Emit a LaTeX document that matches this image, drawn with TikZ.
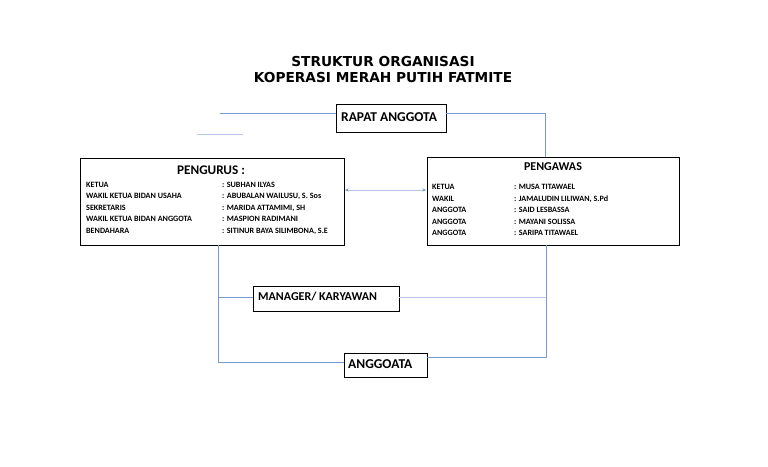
\documentclass[tikz,border=0pt]{standalone}
\usepackage{fontspec}
\setmainfont{Carlito}
\newfontfamily\titlefont{DejaVu Sans}
\usetikzlibrary{arrows.meta}
\definecolor{lnblue}{RGB}{120,152,210}
\definecolor{lnfaint}{RGB}{180,198,230}
\tikzset{
  box/.style={draw=black, line width=0.8pt, rectangle, inner sep=0pt},
  conn/.style={draw=lnblue, line width=0.8pt},
  boxtitle/.style={font=\bfseries\fontsize{13.2}{15}\selectfont, anchor=base},
  row/.style={font=\bfseries\fontsize{8.1}{9}\selectfont, anchor=base west, inner sep=0pt},
  lbl/.style={font=\bfseries\fontsize{13.5}{15}\selectfont, anchor=west, inner sep=0pt}
}
\begin{document}
\begin{tikzpicture}[x=1pt,y=-1pt]
\useasboundingbox (0,0) rectangle (768,466);
% title
\node[font=\titlefont\bfseries\fontsize{13.7}{16}\selectfont, align=center] (title) at (383,70) {STRUKTUR ORGANISASI\\KOPERASI MERAH PUTIH FATMITE};
% boxes
\node[box, minimum width=110pt, minimum height=28pt] (rapat) at (391,118) {};
\node[lbl] (rapattxt) at (341,117.5) {RAPAT ANGGOTA};
\node[box, minimum width=264pt, minimum height=87pt] (pengurus) at (212,201.5) {};
\node[box, minimum width=252pt, minimum height=88pt] (pengawas) at (553,201) {};
\node[box, minimum width=146pt, minimum height=25pt] (manager) at (326,298.5) {};
\node[lbl, font=\bfseries\fontsize{12}{14}\selectfont] (managertxt) at (258,296.5) {MANAGER/ KARYAWAN};
\node[box, minimum width=83pt, minimum height=24pt] (anggoata) at (385.5,365) {};
\node[lbl] (anggoatatxt) at (348,364) {ANGGOATA};
% pengurus content
\node[boxtitle] (pgtitle) at (211,174.5) {PENGURUS :};
\node[row] (p1a) at (86,187) {KETUA};
\node[row] (p1b) at (222,187) {: SUBHAN ILYAS};
\node[row] (p2a) at (86,198.5) {WAKIL KETUA BIDAN USAHA};
\node[row] (p2b) at (222,198.5) {: ABUBALAN WAILUSU, S. Sos};
\node[row] (p3a) at (86,210) {SEKRETARIS};
\node[row] (p3b) at (222,210) {: MARIDA ATTAMIMI, SH};
\node[row] (p4a) at (86,221.5) {WAKIL KETUA BIDAN ANGGOTA};
\node[row] (p4b) at (222,221.5) {: MASPION RADIMANI};
\node[row] (p5a) at (86,233) {BENDAHARA};
\node[row] (p5b) at (222,233) {: SITINUR BAYA SILIMBONA, S.E};
% pengawas content
\node[boxtitle, font=\bfseries\fontsize{12}{14}\selectfont] (pwtitle) at (553,170.5) {PENGAWAS};
\node[row] (w1a) at (432,189.5) {KETUA};
\node[row] (w1b) at (514,189.5) {: MUSA TITAWAEL};
\node[row] (w2a) at (432,201) {WAKIL};
\node[row] (w2b) at (514,201) {: JAMALUDIN LILIWAN, S.Pd};
\node[row] (w3a) at (432,212.5) {ANGGOTA};
\node[row] (w3b) at (514,212.5) {: SAID LESBASSA};
\node[row] (w4a) at (432,224) {ANGGOTA};
\node[row] (w4b) at (514,224) {: MAYANI SOLISSA};
\node[row] (w5a) at (432,235.5) {ANGGOTA};
\node[row] (w5b) at (514,235.5) {: SARIPA TITAWAEL};
% connector points
\coordinate (rl) at (220,113);
\coordinate (rr) at (545,113);
\coordinate (pt) at (545,157);
\coordinate (sl) at (197,134);
\coordinate (sr) at (243,134);
\coordinate (lt) at (218,245);
\coordinate (lb) at (218,362);
\coordinate (lm) at (218,297);
\coordinate (rt) at (546,245);
\coordinate (rm) at (546,297);
\coordinate (rb) at (546,357);
% connectors
\draw[conn] (rl) -- (rl -| rapat.west);
\draw[conn] (rr -| rapat.east) -- (rr) -- (pt);
\draw[draw=lnfaint, line width=0.8pt] (sl) -- (sr);
\draw[draw=lnfaint, line width=0.3pt, {Stealth[length=3.5pt,width=3pt,color=lnblue]}-{Stealth[length=3.5pt,width=3pt,color=lnblue]}] ([xshift=0.6pt]pengurus.east |- 0,190) -- ([xshift=-0.6pt]pengawas.west |- 0,190);
\draw[conn] (lt) -- (lb) -- (lb -| anggoata.west);
\draw[conn] (lm) -- (lm -| manager.west);
\draw[draw=lnfaint, line width=0.8pt] (rm -| manager.east) -- (rm);
\draw[conn] (rt) -- (rb) -- (rb -| anggoata.east);
\end{tikzpicture}
\end{document}
